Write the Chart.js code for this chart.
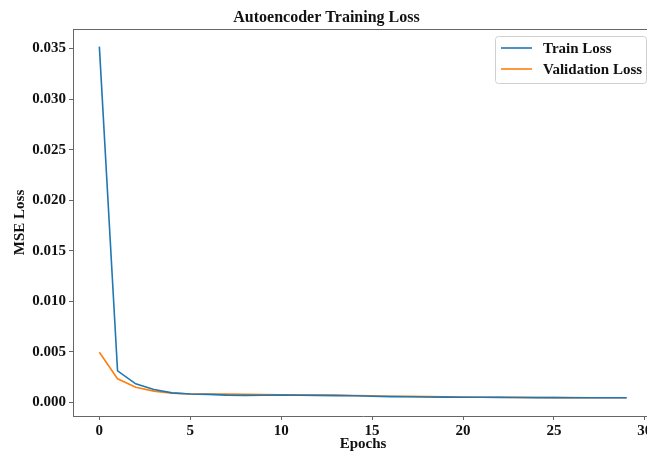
<!DOCTYPE html>
<html>
<head>
<meta charset="utf-8">
<script src="https://cdn.jsdelivr.net/npm/chart.js@4.4.0/dist/chart.umd.min.js"></script>
<style>
  html, body { margin: 0; padding: 0; background: #fff; overflow: hidden; }
  #lossChart { display: block; }
</style>
</head>
<body>
<canvas id="lossChart" width="660" height="452" style="width:660px;height:452px"></canvas>
<script>
const epochs = [0, 1, 2, 3, 4, 5, 6, 7, 8, 9, 10, 11, 12, 13, 14, 15, 16, 17, 18, 19, 20, 21, 22, 23, 24, 25, 26, 27, 28, 29];
const trainLoss = [0.0352, 0.00312, 0.00184, 0.00128, 0.00095, 0.00084, 0.00080, 0.00072, 0.00070, 0.00071,
  0.00072, 0.00071, 0.00070, 0.00068, 0.00066, 0.00062, 0.00058, 0.00056, 0.00054, 0.00053,
  0.00052, 0.00051, 0.00050, 0.00049, 0.00048, 0.00048, 0.00047, 0.00047, 0.00046, 0.00046];
const valLoss = [0.00496, 0.00234, 0.00151, 0.00112, 0.00092, 0.00084, 0.00082, 0.00082, 0.00081, 0.00078,
  0.00076, 0.00075, 0.00074, 0.00072, 0.00069, 0.00066, 0.00062, 0.00060, 0.00058, 0.00056,
  0.00054, 0.00052, 0.00051, 0.00050, 0.00049, 0.00048, 0.00048, 0.00047, 0.00047, 0.00046];
const xTicks = [0, 5, 10, 15, 20, 25, 30];
const yTicks = [0, 0.005, 0.010, 0.015, 0.020, 0.025, 0.030, 0.035];

const trainColor = '#1f77b4';
const valColor = '#ff7f0e';
const axisColor = '#666';

Chart.defaults.font.family = "'Liberation Serif', 'Times New Roman', serif";
Chart.defaults.font.weight = 'bold';
Chart.defaults.color = '#111';

// Top and right spines, like matplotlib
const framePlugin = {
  id: 'frame',
  afterDraw(chart) {
    const { ctx, chartArea: a } = chart;
    ctx.save();
    ctx.strokeStyle = axisColor;
    ctx.lineWidth = 1;
    ctx.beginPath();
    ctx.moveTo(a.left, a.top + 0.5);
    ctx.lineTo(a.right, a.top + 0.5);
    ctx.lineTo(a.right, a.bottom);
    ctx.stroke();
    ctx.restore();
  }
};

// Boxed legend in the upper right corner
const boxLegend = {
  id: 'boxLegend',
  afterDraw(chart) {
    const { ctx } = chart;
    const x = 495, y = 36, w = 151, h = 47;
    ctx.save();
    ctx.fillStyle = 'rgba(255,255,255,0.8)';
    ctx.strokeStyle = '#d0d0d0';
    ctx.lineWidth = 1;
    ctx.beginPath();
    ctx.roundRect(x + 0.5, y + 0.5, w, h, 3);
    ctx.fill();
    ctx.stroke();
    ctx.font = "bold 15px 'Liberation Serif', serif";
    ctx.textBaseline = 'middle';
    chart.data.datasets.forEach((ds, i) => {
      const ly = 48 + i * 21;
      ctx.strokeStyle = ds.borderColor;
      ctx.lineWidth = 1.6;
      ctx.beginPath();
      ctx.moveTo(501, ly);
      ctx.lineTo(532, ly);
      ctx.stroke();
      ctx.fillStyle = '#111';
      ctx.fillText(ds.label, 543, ly + 1);
    });
    ctx.restore();
  }
};

const ctx = document.getElementById('lossChart').getContext('2d');
new Chart(ctx, {
  type: 'line',
  data: {
    datasets: [
      {
        label: 'Train Loss',
        data: epochs.map((e, i) => ({ x: e, y: trainLoss[i] })),
        borderColor: trainColor,
        borderWidth: 1.6,
        pointRadius: 0,
        tension: 0,
        fill: false
      },
      {
        label: 'Validation Loss',
        data: epochs.map((e, i) => ({ x: e, y: valLoss[i] })),
        borderColor: valColor,
        borderWidth: 1.6,
        pointRadius: 0,
        tension: 0,
        fill: false
      }
    ]
  },
  options: {
    responsive: false,
    animation: false,
    layout: { padding: { left: 0, right: 7, top: 0, bottom: 0 } },
    plugins: {
      legend: { display: false },
      tooltip: { enabled: false },
      title: {
        display: true,
        text: 'Autoencoder Training Loss',
        font: { size: 16, weight: 'bold' },
        padding: { top: 8, bottom: 1.8 },
        color: '#111'
      }
    },
    scales: {
      x: {
        type: 'linear',
        min: -1.45,
        max: 30.45,
        afterBuildTicks: scale => { scale.ticks = xTicks.map(v => ({ value: v })); },
        afterFit: scale => { scale.height = 36; },
        grid: { drawOnChartArea: false, drawTicks: true, tickLength: 4, tickColor: axisColor },
        border: { display: true, color: axisColor },
        ticks: { font: { size: 15, weight: 'bold' }, padding: 2, maxRotation: 0, color: '#111' },
        title: {
          display: true,
          text: 'Epochs',
          font: { size: 15, weight: 'bold', lineHeight: 1 },
          padding: { top: 0, bottom: 0 },
          color: '#111'
        }
      },
      y: {
        min: -0.00134,
        max: 0.03694,
        afterBuildTicks: scale => { scale.ticks = yTicks.map(v => ({ value: v })); },
        afterFit: scale => { scale.width = 73; },
        grid: { drawOnChartArea: false, drawTicks: true, tickLength: 4, tickColor: axisColor },
        border: { display: true, color: axisColor },
        ticks: { font: { size: 15, weight: 'bold' }, padding: 3, color: '#111', callback: v => v.toFixed(3) },
        title: {
          display: true,
          text: 'MSE Loss',
          font: { size: 15, weight: 'bold', lineHeight: 1 },
          padding: { top: 13, bottom: 0 },
          color: '#111'
        }
      }
    }
  },
  plugins: [framePlugin, boxLegend]
});
</script>
</body>
</html>
